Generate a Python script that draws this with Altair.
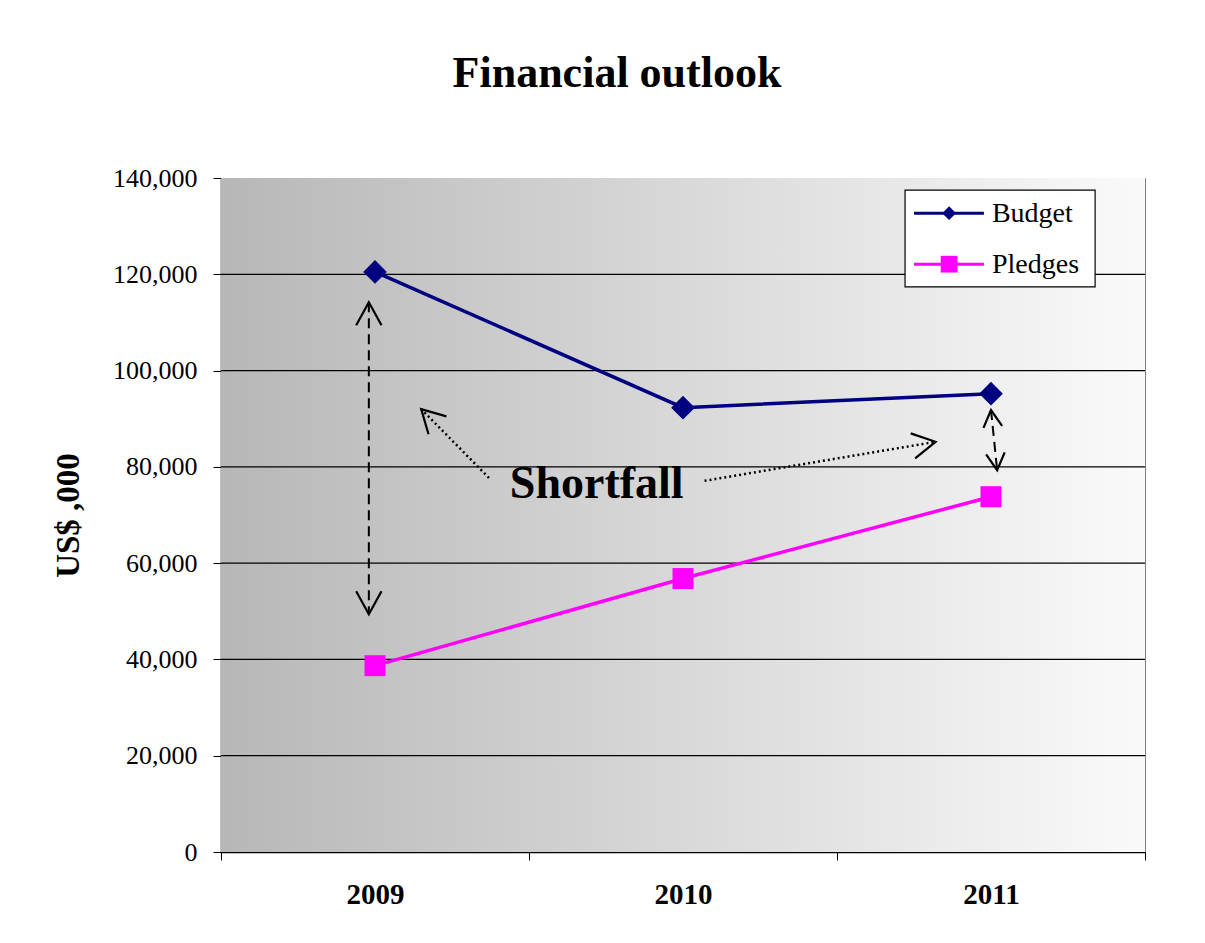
import altair as alt
import pandas as pd

# ---------------- data ----------------
years = [2009, 2010, 2011]
series_names = ["Budget", "Pledges"]
budget = [120500, 92300, 95200]
pledges = [38700, 56800, 73800]
y_ticks = [0, 20000, 40000, 60000, 80000, 100000, 120000, 140000]
x_bounds = [2008.5, 2009.5, 2010.5, 2011.5]

# annotation geometry in data units (year position, US$ ,000)
dash_x = [2008.98, 2011.00]
dash_y = [114200, 91800]
dash_x2 = [2008.98, 2011.02]
dash_y2 = [49400, 79300]

dot_x = [2009.37, 2010.07]
dot_y = [77700, 77100]
dot_x2 = [2009.15, 2010.82]
dot_y2 = [92000, 85200]

head_x = [2008.98, 2008.98, 2011.00, 2011.02, 2009.15, 2010.82]
head_y = [114200, 49400, 91800, 79300, 92000, 85200]
head_angle = [0, 180, 354, 174, 315, 80]
head_size = [2116, 2116, 1156, 1156, 2116, 2116]

label_text = ["Shortfall"]
label_x = [2009.72]
label_y = [73500]

# legend layout, in the same data units
legend_box_x = [2010.721]
legend_box_x2 = [2011.338]
legend_box_y = [137500]
legend_box_y2 = [117400]
legend_row_y = [132700, 122100]
legend_text_y = [130900, 120300]
legend_line_x = 2010.75
legend_line_x2 = 2010.977
legend_mark_x = 2010.864
legend_text_x = 2011.003

# ---------------- tables ----------------
df = pd.DataFrame(
    [{"year": y, "series": s, "value": v}
     for s, vals in zip(series_names, [budget, pledges])
     for y, v in zip(years, vals)]
)
grid_df = pd.DataFrame({"value": y_ticks[1:-1]})
dash_df = pd.DataFrame({"x": dash_x, "value": dash_y, "x2": dash_x2, "y2": dash_y2})
dot_df = pd.DataFrame({"x": dot_x, "value": dot_y, "x2": dot_x2, "y2": dot_y2})
head_df = pd.DataFrame({"x": head_x, "value": head_y, "angle": head_angle, "size": head_size})
text_df = pd.DataFrame({"x": label_x, "value": label_y, "text": label_text})
box_df = pd.DataFrame({"x": legend_box_x, "x2": legend_box_x2,
                       "value": legend_box_y, "y2": legend_box_y2})
leg_df = pd.DataFrame({
    "series": series_names, "value": legend_row_y, "ty": legend_text_y,
    "lx": [legend_line_x] * 2, "lx2": [legend_line_x2] * 2,
    "mx": [legend_mark_x] * 2, "tx": [legend_text_x] * 2,
})
leg_txt_df = pd.DataFrame({"series": series_names, "value": legend_text_y,
                           "tx": [legend_text_x] * 2})

# ---------------- styles ----------------
colors = ["#000080", "#ff00ff"]
FONT = "Liberation Serif"
chevron = "M-0.55,1L0,0L0.55,1"

color_scale = alt.Scale(domain=series_names, range=colors)
y_scale = alt.Scale(domain=[0, 140000], nice=False, zero=True)
x_scale = alt.Scale(domain=[2008.5, 2011.5], nice=False, zero=False)

y_axis = alt.Axis(
    values=y_ticks, format=",d", grid=False, orient="left",
    tickSize=8, tickColor="black", domainColor="black", domainWidth=1.5,
    labelFont=FONT, labelFontSize=26, labelColor="black", labelPadding=16,
    titleFont=FONT, titleFontSize=33, titleFontWeight="bold", titleColor="black",
    titlePadding=27,
)
Y = alt.Y("value:Q", scale=y_scale, axis=y_axis, title="US$ ,000")

x_main = alt.X(
    "year:Q", scale=x_scale, title=None,
    axis=alt.Axis(
        values=years, format="d", ticks=False, tickSize=0, orient="bottom",
        domainColor="black", domainWidth=1.5, labelFont=FONT, labelFontSize=29,
        labelFontWeight="bold", labelColor="black", labelPadding=28, labelAngle=0,
        grid=False,
    ),
)
x_na = alt.X("year:Q", scale=x_scale, axis=None, title=None)

gradient = alt.LinearGradient(
    gradient="linear",
    stops=[alt.GradientStop(color="#b7b7b7", offset=0),
           alt.GradientStop(color="#fafafa", offset=1)],
    x1=0, x2=1, y1=0, y2=0,
)
bg = alt.Chart(pd.DataFrame({"k": [0]})).mark_rect(color=gradient).encode(
    x=alt.value(0), x2=alt.value("width"), y=alt.value(0), y2=alt.value("height"))

grid = alt.Chart(grid_df).mark_rule(color="black", strokeWidth=1.2).encode(y=Y)

base = alt.Chart(df)
line = base.mark_line(strokeWidth=3.5).encode(
    x=x_main, y=Y,
    color=alt.Color("series:N", scale=color_scale, legend=None),
)
pts_b = base.transform_filter(alt.datum.series == "Budget").mark_point(
    shape="diamond", filled=True, size=560, opacity=1
).encode(x=x_na, y=Y, color=alt.Color("series:N", scale=color_scale, legend=None))
pts_p = base.transform_filter(alt.datum.series == "Pledges").mark_point(
    shape="square", filled=True, size=440, opacity=1
).encode(x=x_na, y=Y, color=alt.Color("series:N", scale=color_scale, legend=None))

# boundary ticks of the category axis come from this layer's axis
x_ticks_axis = alt.X(
    "x:Q", scale=x_scale, title=None,
    axis=alt.Axis(values=x_bounds, labels=False, ticks=True, tickSize=8, tickColor="black",
                  tickWidth=1, domain=False, grid=False, orient="bottom"),
)
ax = alt.X("x:Q", scale=x_scale, axis=None)

dashed = alt.Chart(dash_df).mark_rule(color="black", strokeWidth=2, strokeDash=[10, 6]).encode(
    x=x_ticks_axis, y=Y, x2="x2:Q", y2="y2:Q")
dotted = alt.Chart(dot_df).mark_rule(color="black", strokeWidth=2.5, strokeDash=[2, 3]).encode(
    x=ax, y=Y, x2="x2:Q", y2="y2:Q")
heads = alt.Chart(head_df).mark_point(shape=chevron, filled=False, color="black",
                                      strokeWidth=2.2, opacity=1).encode(
    x=ax, y=Y,
    angle=alt.Angle("angle:Q", scale=None),
    size=alt.Size("size:Q", scale=None),
)
txt = alt.Chart(text_df).mark_text(font=FONT, fontSize=46, fontWeight="bold", color="black",
                                    align="center", baseline="alphabetic").encode(
    x=ax, y=Y, text="text:N")

# legend drawn with marks
leg_box = alt.Chart(box_df).mark_rect(fill="white", stroke="black", strokeWidth=1.2).encode(
    x=ax, x2="x2:Q", y=Y, y2="y2:Q")
leg_base = alt.Chart(leg_df)
leg_lines = leg_base.mark_rule(strokeWidth=3).encode(
    x=alt.X("lx:Q", scale=x_scale, axis=None), x2="lx2:Q", y=Y,
    color=alt.Color("series:N", scale=color_scale, legend=None))
leg_dia = leg_base.transform_filter(alt.datum.series == "Budget").mark_point(
    shape="diamond", filled=True, size=190, opacity=1).encode(
    x=alt.X("mx:Q", scale=x_scale, axis=None), y=Y,
    color=alt.Color("series:N", scale=color_scale, legend=None))
leg_sq = leg_base.transform_filter(alt.datum.series == "Pledges").mark_point(
    shape="square", filled=True, size=280, opacity=1).encode(
    x=alt.X("mx:Q", scale=x_scale, axis=None), y=Y,
    color=alt.Color("series:N", scale=color_scale, legend=None))
leg_txt = alt.Chart(leg_txt_df).mark_text(font=FONT, fontSize=28, color="black", align="left",
                                          baseline="alphabetic").encode(
    x=alt.X("tx:Q", scale=x_scale, axis=None), y=Y, text="series:N")

chart = alt.layer(
    bg, grid, line, pts_b, pts_p, dashed, dotted, heads, txt,
    leg_box, leg_lines, leg_dia, leg_sq, leg_txt,
).resolve_axis(x="independent").properties(
    width=924, height=674,
    title=alt.TitleParams("Financial outlook", font=FONT, fontSize=44, fontWeight="bold",
                          color="black", anchor="middle", dx=-66, offset=34,
                          baseline="alphabetic"),
    padding={"left": 213, "top": 170, "right": 52, "bottom": 70},
    autosize=alt.AutoSizeParams(type="none"),
    background="white",
).configure_view(stroke="#808080")

chart.save("out.html", embed_options={"renderer": "svg", "actions": False})
